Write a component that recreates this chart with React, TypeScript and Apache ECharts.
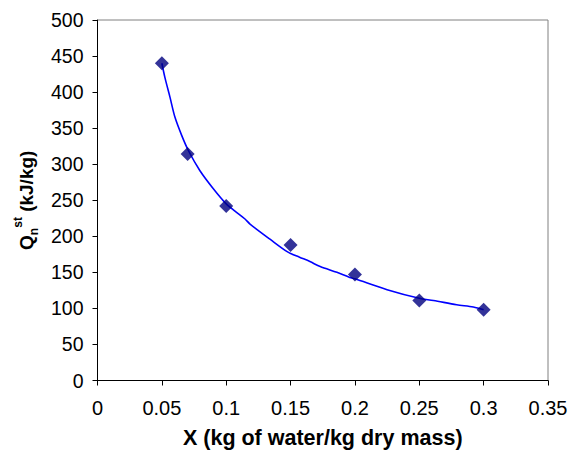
import React, { useEffect, useRef } from "react";
import * as echarts from "echarts";

const pointX = [0.05, 0.07, 0.1, 0.15, 0.2, 0.25, 0.3];
const pointY = [440, 314, 242, 188, 147, 111, 98];

const curveX = [0.05, 0.0524, 0.0563, 0.0602, 0.0654, 0.0706, 0.0796, 0.09, 0.1, 0.1068, 0.1146, 0.1185, 0.134, 0.148, 0.157, 0.165, 0.173, 0.186, 0.196, 0.2, 0.225, 0.25, 0.261, 0.279, 0.292, 0.3];
const curveY = [440, 420, 393, 365, 340, 319, 291, 266, 245, 235, 224, 217, 196, 178, 171, 165, 158, 150, 143, 141, 126, 114, 111, 105, 102, 98];

const FONT = "'Liberation Sans', Arial, sans-serif";

export default function App() {
  const ref = useRef<HTMLDivElement>(null);
  useEffect(() => {
    if (!ref.current) return;
    const chart = echarts.init(ref.current, null, { renderer: "svg" });
    chart.setOption({
      animation: false,
      backgroundColor: "#ffffff",
      grid: {
        left: 97.5,
        right: 30,
        top: 20,
        bottom: 78.5,
        show: true,
        borderColor: "#808080",
        borderWidth: 1,
      },
      xAxis: {
        type: "value",
        min: 0,
        max: 0.35,
        interval: 0.05,
        name: "X (kg of water/kg dry mass)",
        nameLocation: "middle",
        nameGap: 46,
        nameTextStyle: { fontFamily: FONT, fontSize: 21.5, fontWeight: "bold", color: "#000" },
        axisLine: { show: true, lineStyle: { color: "#000", width: 1 } },
        axisTick: { show: true, length: 5, lineStyle: { color: "#000" } },
        axisLabel: { margin: 17, fontFamily: FONT, fontSize: 20, color: "#000", formatter: (v: number) => String(Math.round(v * 100) / 100) },
        splitLine: { show: false },
      },
      yAxis: {
        type: "value",
        min: 0,
        max: 500,
        interval: 50,
        name: "{b|Q}{sub|n}{sup|st}{b| (kJ/kg)}",
        nameLocation: "middle",
        nameRotate: 90,
        nameGap: 56,
        nameTextStyle: {
          fontFamily: FONT,
          fontSize: 19,
          fontWeight: "bold",
          color: "#000",
          rich: {
            b: { fontFamily: FONT, fontSize: 19, fontWeight: "bold", color: "#000", lineHeight: 28, verticalAlign: "middle" },
            sub: { fontFamily: FONT, fontSize: 12, fontWeight: "bold", color: "#000", lineHeight: 28, verticalAlign: "bottom" },
            sup: { fontFamily: FONT, fontSize: 12, fontWeight: "bold", color: "#000", lineHeight: 28, verticalAlign: "top" },
          },
        },
        axisLine: { show: true, lineStyle: { color: "#000", width: 1 } },
        axisTick: { show: true, length: 5, lineStyle: { color: "#000" } },
        axisLabel: { margin: 14, fontFamily: FONT, fontSize: 19.5, color: "#000" },
        splitLine: { show: false },
      },
      series: [
        {
          type: "line",
          data: curveX.map((x, i) => [x, curveY[i]]),
          smooth: 0.3,
          showSymbol: false,
          symbol: "none",
          lineStyle: { color: "#0000FF", width: 1.6 },
          z: 2,
        },
        {
          type: "scatter",
          data: pointX.map((x, i) => [x, pointY[i]]),
          symbol: "diamond",
          symbolSize: 14,
          itemStyle: { color: "#000080" },
          z: 3,
        },
      ],
    });
    return () => chart.dispose();
  }, []);
  return <div ref={ref} style={{ width: 578, height: 459, position: "absolute", left: 0, top: 0 }} />;
}
